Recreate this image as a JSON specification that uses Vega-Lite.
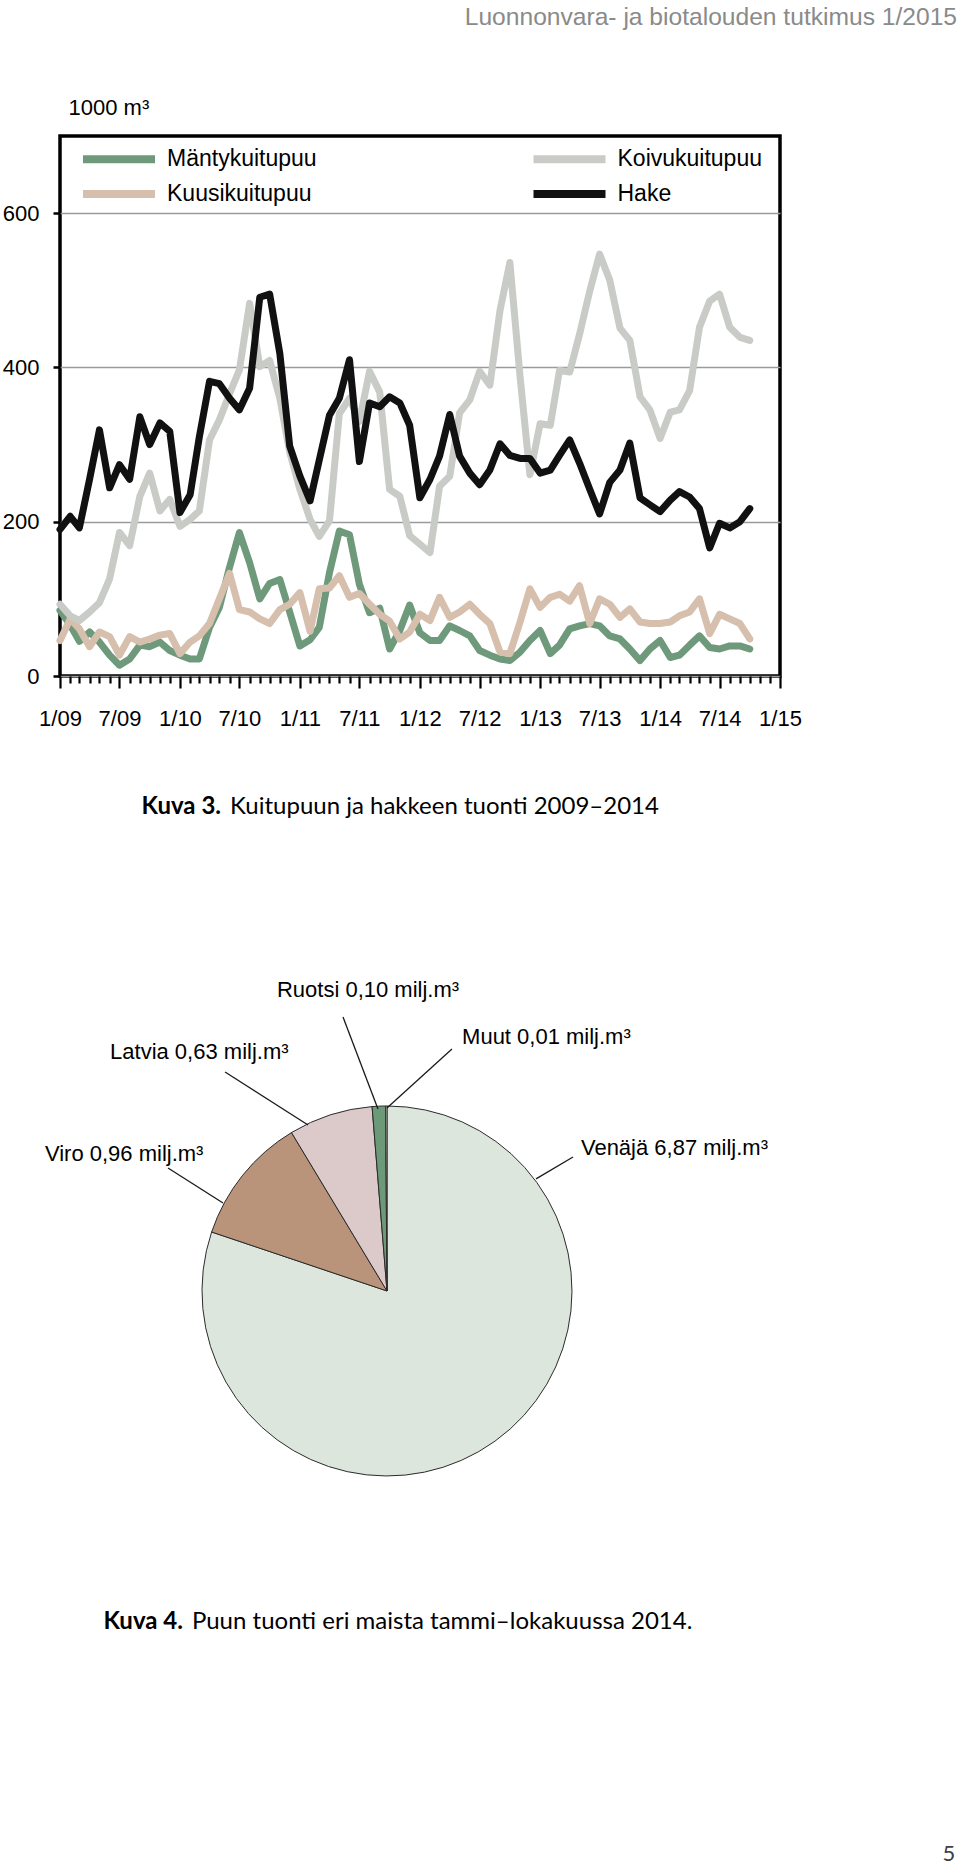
{
  "$schema": "https://vega.github.io/schema/vega-lite/v6.json",
  "padding": {"left": 0, "top": 3, "right": 0, "bottom": 0},
  "background": "white",
  "config": {"font": "Liberation Sans"},
  "datasets": {
    "months": [
      {"kk": "2009-01", "Mäntykuitupuu": 85, "Kuusikuitupuu": 46, "Koivukuitupuu": 93, "Hake": 190},
      {"kk": "2009-02", "Mäntykuitupuu": 66, "Kuusikuitupuu": 74, "Koivukuitupuu": 78, "Hake": 207},
      {"kk": "2009-03", "Mäntykuitupuu": 45, "Kuusikuitupuu": 61, "Koivukuitupuu": 72, "Hake": 192},
      {"kk": "2009-04", "Mäntykuitupuu": 57, "Kuusikuitupuu": 38, "Koivukuitupuu": 83, "Hake": 255},
      {"kk": "2009-05", "Mäntykuitupuu": 44, "Kuusikuitupuu": 57, "Koivukuitupuu": 95, "Hake": 319},
      {"kk": "2009-06", "Mäntykuitupuu": 27, "Kuusikuitupuu": 51, "Koivukuitupuu": 126, "Hake": 244},
      {"kk": "2009-07", "Mäntykuitupuu": 14, "Kuusikuitupuu": 27, "Koivukuitupuu": 186, "Hake": 274},
      {"kk": "2009-08", "Mäntykuitupuu": 22, "Kuusikuitupuu": 51, "Koivukuitupuu": 169, "Hake": 255},
      {"kk": "2009-09", "Mäntykuitupuu": 40, "Kuusikuitupuu": 44, "Koivukuitupuu": 233, "Hake": 336},
      {"kk": "2009-10", "Mäntykuitupuu": 38, "Kuusikuitupuu": 48, "Koivukuitupuu": 263, "Hake": 300},
      {"kk": "2009-11", "Mäntykuitupuu": 44, "Kuusikuitupuu": 53, "Koivukuitupuu": 214, "Hake": 328},
      {"kk": "2009-12", "Mäntykuitupuu": 33, "Kuusikuitupuu": 55, "Koivukuitupuu": 229, "Hake": 317},
      {"kk": "2010-01", "Mäntykuitupuu": 27, "Kuusikuitupuu": 29, "Koivukuitupuu": 194, "Hake": 212},
      {"kk": "2010-02", "Mäntykuitupuu": 22, "Kuusikuitupuu": 44, "Koivukuitupuu": 203, "Hake": 235},
      {"kk": "2010-03", "Mäntykuitupuu": 22, "Kuusikuitupuu": 52, "Koivukuitupuu": 214, "Hake": 310},
      {"kk": "2010-04", "Mäntykuitupuu": 63, "Kuusikuitupuu": 68, "Koivukuitupuu": 306, "Hake": 382},
      {"kk": "2010-05", "Mäntykuitupuu": 89, "Kuusikuitupuu": 100, "Koivukuitupuu": 332, "Hake": 379},
      {"kk": "2010-06", "Mäntykuitupuu": 141, "Kuusikuitupuu": 133, "Koivukuitupuu": 366, "Hake": 360},
      {"kk": "2010-07", "Mäntykuitupuu": 186, "Kuusikuitupuu": 86, "Koivukuitupuu": 397, "Hake": 345},
      {"kk": "2010-08", "Mäntykuitupuu": 147, "Kuusikuitupuu": 83, "Koivukuitupuu": 483, "Hake": 373},
      {"kk": "2010-09", "Mäntykuitupuu": 100, "Kuusikuitupuu": 74, "Koivukuitupuu": 401, "Hake": 491},
      {"kk": "2010-10", "Mäntykuitupuu": 120, "Kuusikuitupuu": 68, "Koivukuitupuu": 409, "Hake": 495},
      {"kk": "2010-11", "Mäntykuitupuu": 125, "Kuusikuitupuu": 86, "Koivukuitupuu": 360, "Hake": 418},
      {"kk": "2010-12", "Mäntykuitupuu": 83, "Kuusikuitupuu": 93, "Koivukuitupuu": 290, "Hake": 298},
      {"kk": "2011-01", "Mäntykuitupuu": 39, "Kuusikuitupuu": 108, "Koivukuitupuu": 242, "Hake": 259},
      {"kk": "2011-02", "Mäntykuitupuu": 47, "Kuusikuitupuu": 58, "Koivukuitupuu": 203, "Hake": 227},
      {"kk": "2011-03", "Mäntykuitupuu": 63, "Kuusikuitupuu": 113, "Koivukuitupuu": 181, "Hake": 280},
      {"kk": "2011-04", "Mäntykuitupuu": 134, "Kuusikuitupuu": 114, "Koivukuitupuu": 201, "Hake": 338},
      {"kk": "2011-05", "Mäntykuitupuu": 188, "Kuusikuitupuu": 130, "Koivukuitupuu": 340, "Hake": 360},
      {"kk": "2011-06", "Mäntykuitupuu": 183, "Kuusikuitupuu": 102, "Koivukuitupuu": 360, "Hake": 410},
      {"kk": "2011-07", "Mäntykuitupuu": 119, "Kuusikuitupuu": 107, "Koivukuitupuu": 330, "Hake": 278},
      {"kk": "2011-08", "Mäntykuitupuu": 82, "Kuusikuitupuu": 93, "Koivukuitupuu": 395, "Hake": 354},
      {"kk": "2011-09", "Mäntykuitupuu": 88, "Kuusikuitupuu": 80, "Koivukuitupuu": 368, "Hake": 349},
      {"kk": "2011-10", "Mäntykuitupuu": 35, "Kuusikuitupuu": 71, "Koivukuitupuu": 242, "Hake": 362},
      {"kk": "2011-11", "Mäntykuitupuu": 59, "Kuusikuitupuu": 48, "Koivukuitupuu": 233, "Hake": 354},
      {"kk": "2011-12", "Mäntykuitupuu": 92, "Kuusikuitupuu": 57, "Koivukuitupuu": 182, "Hake": 325},
      {"kk": "2012-01", "Mäntykuitupuu": 56, "Kuusikuitupuu": 80, "Koivukuitupuu": 171, "Hake": 231},
      {"kk": "2012-02", "Mäntykuitupuu": 46, "Kuusikuitupuu": 72, "Koivukuitupuu": 160, "Hake": 255},
      {"kk": "2012-03", "Mäntykuitupuu": 46, "Kuusikuitupuu": 102, "Koivukuitupuu": 246, "Hake": 285},
      {"kk": "2012-04", "Mäntykuitupuu": 65, "Kuusikuitupuu": 76, "Koivukuitupuu": 259, "Hake": 339},
      {"kk": "2012-05", "Mäntykuitupuu": 59, "Kuusikuitupuu": 83, "Koivukuitupuu": 341, "Hake": 285},
      {"kk": "2012-06", "Mäntykuitupuu": 52, "Kuusikuitupuu": 93, "Koivukuitupuu": 358, "Hake": 263},
      {"kk": "2012-07", "Mäntykuitupuu": 33, "Kuusikuitupuu": 80, "Koivukuitupuu": 395, "Hake": 248},
      {"kk": "2012-08", "Mäntykuitupuu": 27, "Kuusikuitupuu": 68, "Koivukuitupuu": 377, "Hake": 267},
      {"kk": "2012-09", "Mäntykuitupuu": 22, "Kuusikuitupuu": 31, "Koivukuitupuu": 474, "Hake": 301},
      {"kk": "2012-10", "Mäntykuitupuu": 20, "Kuusikuitupuu": 29, "Koivukuitupuu": 536, "Hake": 286},
      {"kk": "2012-11", "Mäntykuitupuu": 31, "Kuusikuitupuu": 70, "Koivukuitupuu": 388, "Hake": 282},
      {"kk": "2012-12", "Mäntykuitupuu": 46, "Kuusikuitupuu": 113, "Koivukuitupuu": 261, "Hake": 282},
      {"kk": "2013-01", "Mäntykuitupuu": 59, "Kuusikuitupuu": 89, "Koivukuitupuu": 327, "Hake": 263},
      {"kk": "2013-02", "Mäntykuitupuu": 29, "Kuusikuitupuu": 102, "Koivukuitupuu": 325, "Hake": 267},
      {"kk": "2013-03", "Mäntykuitupuu": 40, "Kuusikuitupuu": 106, "Koivukuitupuu": 396, "Hake": 286},
      {"kk": "2013-04", "Mäntykuitupuu": 61, "Kuusikuitupuu": 97, "Koivukuitupuu": 394, "Hake": 306},
      {"kk": "2013-05", "Mäntykuitupuu": 65, "Kuusikuitupuu": 117, "Koivukuitupuu": 443, "Hake": 276},
      {"kk": "2013-06", "Mäntykuitupuu": 68, "Kuusikuitupuu": 68, "Koivukuitupuu": 499, "Hake": 242},
      {"kk": "2013-07", "Mäntykuitupuu": 65, "Kuusikuitupuu": 100, "Koivukuitupuu": 547, "Hake": 210},
      {"kk": "2013-08", "Mäntykuitupuu": 52, "Kuusikuitupuu": 93, "Koivukuitupuu": 513, "Hake": 251},
      {"kk": "2013-09", "Mäntykuitupuu": 48, "Kuusikuitupuu": 76, "Koivukuitupuu": 451, "Hake": 267},
      {"kk": "2013-10", "Mäntykuitupuu": 35, "Kuusikuitupuu": 87, "Koivukuitupuu": 435, "Hake": 302},
      {"kk": "2013-11", "Mäntykuitupuu": 20, "Kuusikuitupuu": 70, "Koivukuitupuu": 362, "Hake": 231},
      {"kk": "2013-12", "Mäntykuitupuu": 35, "Kuusikuitupuu": 68, "Koivukuitupuu": 345, "Hake": 222},
      {"kk": "2014-01", "Mäntykuitupuu": 46, "Kuusikuitupuu": 68, "Koivukuitupuu": 308, "Hake": 213},
      {"kk": "2014-02", "Mäntykuitupuu": 24, "Kuusikuitupuu": 70, "Koivukuitupuu": 342, "Hake": 228},
      {"kk": "2014-03", "Mäntykuitupuu": 27, "Kuusikuitupuu": 78, "Koivukuitupuu": 345, "Hake": 239},
      {"kk": "2014-04", "Mäntykuitupuu": 40, "Kuusikuitupuu": 83, "Koivukuitupuu": 370, "Hake": 232},
      {"kk": "2014-05", "Mäntykuitupuu": 52, "Kuusikuitupuu": 100, "Koivukuitupuu": 452, "Hake": 217},
      {"kk": "2014-06", "Mäntykuitupuu": 37, "Kuusikuitupuu": 55, "Koivukuitupuu": 486, "Hake": 166},
      {"kk": "2014-07", "Mäntykuitupuu": 35, "Kuusikuitupuu": 80, "Koivukuitupuu": 495, "Hake": 198},
      {"kk": "2014-08", "Mäntykuitupuu": 39, "Kuusikuitupuu": 74, "Koivukuitupuu": 452, "Hake": 192},
      {"kk": "2014-09", "Mäntykuitupuu": 39, "Kuusikuitupuu": 68, "Koivukuitupuu": 439, "Hake": 200},
      {"kk": "2014-10", "Mäntykuitupuu": 35, "Kuusikuitupuu": 48, "Koivukuitupuu": 435, "Hake": 217}
    ],
    "pie": [
      {"country": "Venäjä", "value": 6.87, "label": "Venäjä 6,87 milj.m³"},
      {"country": "Viro", "value": 0.96, "label": "Viro 0,96 milj.m³"},
      {"country": "Latvia", "value": 0.63, "label": "Latvia 0,63 milj.m³"},
      {"country": "Ruotsi", "value": 0.10, "label": "Ruotsi 0,10 milj.m³"},
      {"country": "Muut", "value": 0.01, "label": "Muut 0,01 milj.m³"}
    ],
    "notes": [
      {"key": "k3a", "text": "Kuva 3."},
      {"key": "k3b", "text": "Kuitupuun ja hakkeen tuonti 2009–2014"},
      {"key": "k4a", "text": "Kuva 4."},
      {"key": "k4b", "text": "Puun tuonti eri maista tammi–lokakuussa 2014."},
      {"key": "page", "text": "5"}
    ]
  },
  "vconcat": [
    {
      "width": 720,
      "height": 540,
      "view": {"stroke": "black", "strokeWidth": 3.5},
      "title": {"text": "Luonnonvara- ja biotalouden tutkimus 1/2015", "anchor": "end", "frame": "group", "dx": 177, "offset": 46, "baseline": "alphabetic", "font": "Liberation Sans", "fontSize": 24.6, "fontWeight": "normal", "color": "#8a8a8a"},
      "data": {"name": "months"},
      "transform": [{"fold": ["Mäntykuitupuu", "Kuusikuitupuu", "Koivukuitupuu", "Hake"], "as": ["sarja", "arvo"]}],
      "mark": {"type": "line", "strokeWidth": 7, "strokeJoin": "round", "strokeCap": "round"},
      "encoding": {
        "x": {
          "field": "kk", "type": "temporal",
          "scale": {"type": "utc", "domain": [{"year": 2009, "month": 1, "date": 1, "utc": true}, {"year": 2015, "month": 1, "date": 1, "utc": true}], "nice": false},
          "axis": {
            "title": null, "domain": false, "grid": false,
            "tickCount": {"interval": "month", "step": 1},
            "labelExpr": "utcmonth(datum.value) % 6 === 0 ? utcFormat(datum.value, '%-m/%y') : ''",
            "labelOverlap": false, "labelFlush": false,
            "labelFont": "Liberation Sans", "labelFontSize": 22, "labelColor": "black", "labelPadding": 20,
            "tickColor": "black", "tickWidth": 2.2,
            "tickSize": {"condition": {"test": "utcmonth(datum.value) % 6 === 0", "value": 12}, "value": 7}
          }
        },
        "y": {
          "field": "arvo", "type": "quantitative",
          "scale": {"domain": [0, 700], "nice": false},
          "axis": {
            "values": [0, 200, 400, 600],
            "title": "1000 m³", "titleAngle": 0, "titleAlign": "left", "titleBaseline": "middle",
            "titleX": 8, "titleY": -29, "titleFont": "Liberation Sans", "titleFontSize": 22, "titleFontWeight": "normal", "titleColor": "black",
            "grid": true, "gridColor": "#9a9a9a", "gridWidth": 1.5, "domain": false,
            "tickColor": "black", "tickWidth": 2.5, "tickSize": 7,
            "labelFont": "Liberation Sans", "labelFontSize": 22, "labelColor": "black", "labelPadding": 14
          }
        },
        "color": {
          "field": "sarja", "type": "nominal",
          "scale": {"domain": ["Mäntykuitupuu", "Kuusikuitupuu", "Koivukuitupuu", "Hake"], "range": ["#6e9a7b", "#d6bfad", "#c9cbc6", "#111111"]},
          "legend": {
            "title": null, "orient": "none", "legendX": 40.5, "legendY": 4.5, "columns": 2, "columnPadding": 199.5, "rowPadding": -3,
            "symbolType": "M-2.483,0H2.483", "symbolSize": 841, "symbolStrokeWidth": 8,
            "labelFont": "Liberation Sans", "labelFontSize": 23, "labelColor": "black", "labelOffset": 29.5, "labelLimit": 400
          }
        }
      }
    },
    {
      "width": 900,
      "height": 1108,
      "view": {"stroke": null},
      "data": {"name": "pie"},
      "layer": [
        {
          "mark": {"type": "arc", "outerRadius": 185, "stroke": "#2b2b2b", "strokeWidth": 1},
          "encoding": {
            "theta": {"field": "value", "type": "quantitative", "stack": true},
            "order": {"field": "value", "sort": "descending"},
            "color": {"field": "country", "type": "nominal", "scale": {"domain": ["Venäjä", "Viro", "Latvia", "Ruotsi", "Muut"], "range": ["#dde6dd", "#b9937a", "#dcc9c9", "#6c9a78", "#f0f0f0"]}, "legend": null},
            "x": {"datum": 0, "type": "quantitative", "scale": {"domain": [-1.777, 3.114], "nice": false, "zero": false}, "axis": null},
            "y": {"datum": 0, "type": "quantitative", "scale": {"domain": [-3.147, 2.875], "nice": false, "zero": false}, "axis": null}
          }
        },
        {
          "transform": [{"filter": "datum.country === 'Ruotsi'"}],
          "mark": {"type": "rule", "color": "#1a1a1a", "strokeWidth": 1.3},
          "encoding": {"x": {"datum": -0.239, "axis": null}, "y": {"datum": 1.489, "axis": null}, "x2": {"datum": -0.049}, "y2": {"datum": 0.989}}
        },
        {
          "transform": [{"filter": "datum.country === 'Muut'"}],
          "mark": {"type": "rule", "color": "#1a1a1a", "strokeWidth": 1.3},
          "encoding": {"x": {"datum": 0.353, "axis": null}, "y": {"datum": 1.315, "axis": null}, "x2": {"datum": 0.0}, "y2": {"datum": 0.995}}
        },
        {
          "transform": [{"filter": "datum.country === 'Latvia'"}],
          "mark": {"type": "rule", "color": "#1a1a1a", "strokeWidth": 1.3},
          "encoding": {"x": {"datum": -0.880, "axis": null}, "y": {"datum": 1.190, "axis": null}, "x2": {"datum": -0.429}, "y2": {"datum": 0.902}}
        },
        {
          "transform": [{"filter": "datum.country === 'Viro'"}],
          "mark": {"type": "rule", "color": "#1a1a1a", "strokeWidth": 1.3},
          "encoding": {"x": {"datum": -1.190, "axis": null}, "y": {"datum": 0.668, "axis": null}, "x2": {"datum": -0.891}, "y2": {"datum": 0.478}}
        },
        {
          "transform": [{"filter": "datum.country === 'Venäjä'"}],
          "mark": {"type": "rule", "color": "#1a1a1a", "strokeWidth": 1.3},
          "encoding": {"x": {"datum": 1.011, "axis": null}, "y": {"datum": 0.728, "axis": null}, "x2": {"datum": 0.810}, "y2": {"datum": 0.609}}
        },
        {
          "transform": [{"filter": "datum.country === 'Ruotsi'"}],
          "mark": {"type": "text", "align": "left", "baseline": "middle", "font": "Liberation Sans", "fontSize": 22, "color": "black"},
          "encoding": {"text": {"field": "label"}, "x": {"datum": -0.598, "axis": null}, "y": {"datum": 1.636, "axis": null}}
        },
        {
          "transform": [{"filter": "datum.country === 'Muut'"}],
          "mark": {"type": "text", "align": "left", "baseline": "middle", "font": "Liberation Sans", "fontSize": 22, "color": "black"},
          "encoding": {"text": {"field": "label"}, "x": {"datum": 0.408, "axis": null}, "y": {"datum": 1.380, "axis": null}}
        },
        {
          "transform": [{"filter": "datum.country === 'Latvia'"}],
          "mark": {"type": "text", "align": "left", "baseline": "middle", "font": "Liberation Sans", "fontSize": 22, "color": "black"},
          "encoding": {"text": {"field": "label"}, "x": {"datum": -1.505, "axis": null}, "y": {"datum": 1.299, "axis": null}}
        },
        {
          "transform": [{"filter": "datum.country === 'Viro'"}],
          "mark": {"type": "text", "align": "left", "baseline": "middle", "font": "Liberation Sans", "fontSize": 22, "color": "black"},
          "encoding": {"text": {"field": "label"}, "x": {"datum": -1.859, "axis": null}, "y": {"datum": 0.745, "axis": null}}
        },
        {
          "transform": [{"filter": "datum.country === 'Venäjä'"}],
          "mark": {"type": "text", "align": "left", "baseline": "middle", "font": "Liberation Sans", "fontSize": 22, "color": "black"},
          "encoding": {"text": {"field": "label"}, "x": {"datum": 1.054, "axis": null}, "y": {"datum": 0.777, "axis": null}}
        },
        {
          "data": {"name": "notes"},
          "transform": [{"filter": "datum.key === 'k3a'"}],
          "mark": {"type": "text", "align": "right", "baseline": "middle", "font": "Lato", "fontSize": 24, "fontWeight": "bold", "color": "black"},
          "encoding": {"text": {"field": "text"}, "x": {"datum": -0.902, "axis": null}, "y": {"datum": 2.630, "axis": null}}
        },
        {
          "data": {"name": "notes"},
          "transform": [{"filter": "datum.key === 'k3b'"}],
          "mark": {"type": "text", "align": "left", "baseline": "middle", "font": "Lato", "fontSize": 24, "color": "black"},
          "encoding": {"text": {"field": "text"}, "x": {"datum": -0.853, "axis": null}, "y": {"datum": 2.630, "axis": null}}
        },
        {
          "data": {"name": "notes"},
          "transform": [{"filter": "datum.key === 'k4a'"}],
          "mark": {"type": "text", "align": "right", "baseline": "middle", "font": "Lato", "fontSize": 24, "fontWeight": "bold", "color": "black"},
          "encoding": {"text": {"field": "text"}, "x": {"datum": -1.109, "axis": null}, "y": {"datum": -1.799, "axis": null}}
        },
        {
          "data": {"name": "notes"},
          "transform": [{"filter": "datum.key === 'k4b'"}],
          "mark": {"type": "text", "align": "left", "baseline": "middle", "font": "Lato", "fontSize": 24, "color": "black"},
          "encoding": {"text": {"field": "text"}, "x": {"datum": -1.060, "axis": null}, "y": {"datum": -1.799, "axis": null}}
        },
        {
          "data": {"name": "notes"},
          "transform": [{"filter": "datum.key === 'page'"}],
          "mark": {"type": "text", "align": "center", "baseline": "middle", "font": "Lato", "fontSize": 22, "color": "#404040"},
          "encoding": {"text": {"field": "text"}, "x": {"datum": 3.054, "axis": null}, "y": {"datum": -3.060, "axis": null}}
        }
      ]
    }
  ],
  "spacing": 86,
  "bounds": "flush",
  "resolve": {"scale": {"color": "independent", "x": "independent", "y": "independent"}, "legend": {"color": "independent"}}
}
